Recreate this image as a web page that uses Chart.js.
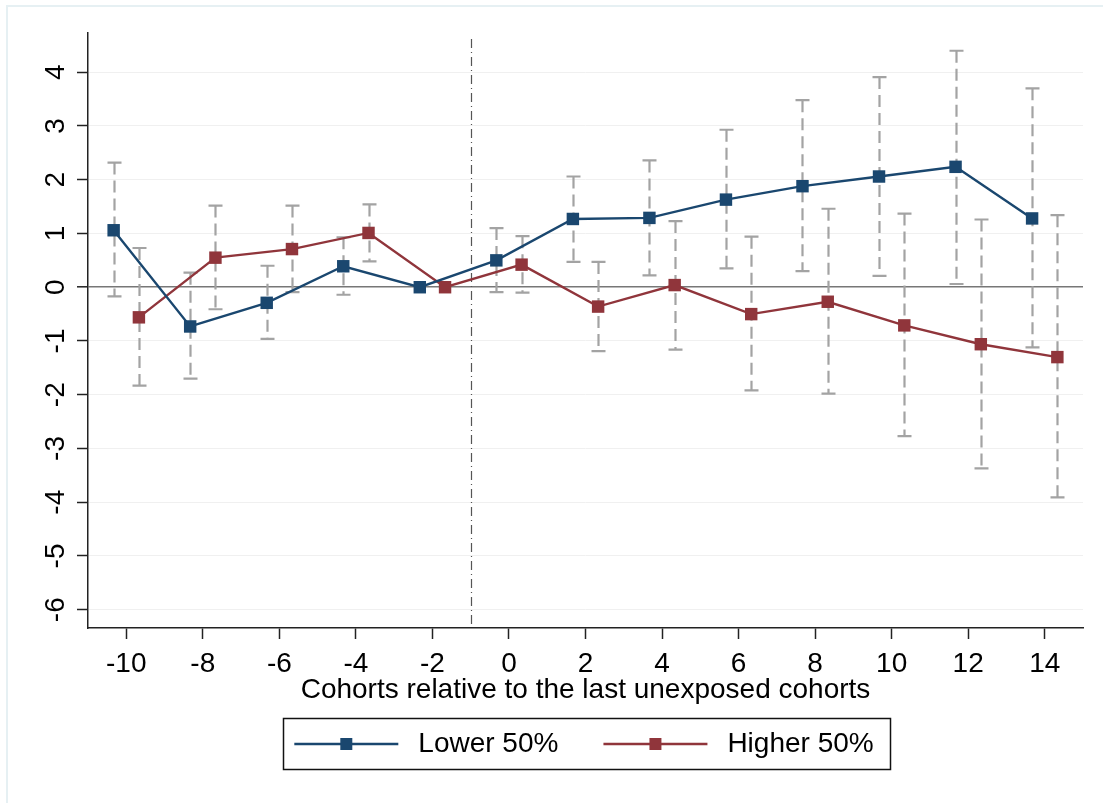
<!DOCTYPE html>
<html>
<head>
<meta charset="utf-8">
<title>Cohort estimates</title>
<script src="https://cdn.jsdelivr.net/npm/chart.js@4.4.0/dist/chart.umd.min.js"></script>
<style>
    html, body { margin: 0; padding: 0; background: #fff; }
    #wrap { width: 1103px; height: 803px; }
</style>
</head>
<body>
<div id="wrap"><canvas id="chart" width="1103" height="803"></canvas></div>
<script>
// values
var cohorts = [-10, -8, -6, -4, -2, 0, 2, 4, 6, 8, 10, 12, 14];
var lowerEst = [1.06, -0.73, -0.29, 0.39, 0, 0.50, 1.27, 1.29, 1.63, 1.88, 2.06, 2.24, 1.28];
var lowerLo = [-0.17, -1.70, -0.96, -0.14, null, -0.09, 0.47, 0.22, 0.35, 0.30, 0.21, 0.06, -1.12];
var lowerHi = [2.32, 0.27, 0.40, 0.93, null, 1.10, 2.06, 2.36, 2.93, 3.48, 3.91, 4.40, 3.70];
var higherEst = [-0.56, 0.55, 0.71, 1.01, 0, 0.42, -0.36, 0.04, -0.50, -0.27, -0.71, -1.06, -1.30];
var higherLo = [-1.83, -0.41, -0.09, 0.48, null, -0.10, -1.19, -1.16, -1.92, -1.98, -2.77, -3.37, -3.91];
var higherHi = [0.73, 1.52, 1.52, 1.54, null, 0.95, 0.47, 1.23, 0.94, 1.46, 1.37, 1.26, 1.34];
var xTicks = [-10, -8, -6, -4, -2, 0, 2, 4, 6, 8, 10, 12, 14];
var yTicks = [-6, -5, -4, -3, -2, -1, 0, 1, 2, 3, 4];

var BLUE = '#1a476f';
var RED = '#90353b';
var FONT = '"Liberation Sans", Arial, sans-serif';

function points(est, shift) {
    return cohorts.map(function (c, i) {
        return {x: c + shift, y: est[i]};
    });
}

// legend sample: line with a square marker in the middle
function legendIcon(color) {
    var c = document.createElement('canvas');
    c.width = 115;
    c.height = 16;
    var g = c.getContext('2d');
    g.strokeStyle = color;
    g.lineWidth = 2.5;
    g.beginPath();
    g.moveTo(5, 8);
    g.lineTo(109, 8);
    g.stroke();
    g.fillStyle = color;
    g.fillRect(51, 2, 12, 12);
    return c;
}

var errorBars = {
    id: 'errorBars',
    afterLayout: function (chart) {
        // centre the legend under the plot region rather than the whole canvas
        chart.legend.left = 80;
    },
    beforeDatasetsDraw: function (chart) {
        var ctx = chart.ctx;
        var xs = chart.scales.x;
        var ys = chart.scales.y;
        var area = chart.chartArea;

        // dash-dot reference line
        var vx = Math.round(xs.getPixelForValue(-1)) + 0.5;
        ctx.save();
        ctx.strokeStyle = '#555';
        ctx.lineWidth = 1.2;
        ctx.setLineDash([9, 4, 1, 4]);
        ctx.beginPath();
        ctx.moveTo(vx, area.top + 6);
        ctx.lineTo(vx, area.bottom);
        ctx.stroke();
        ctx.restore();

        chart.data.datasets.forEach(function (ds) {
            ds.ciLo.forEach(function (lo, i) {
                var hi = ds.ciHi[i];
                if (lo === null) return;
                var px = Math.round(xs.getPixelForValue(ds.data[i].x)) + 0.5;
                var y1 = ys.getPixelForValue(lo);
                var y2 = ys.getPixelForValue(hi);
                ctx.save();
                ctx.strokeStyle = '#a3a3a3';
                ctx.lineWidth = 2.2;
                ctx.setLineDash([12, 6]);
                ctx.beginPath();
                ctx.moveTo(px, y2);
                ctx.lineTo(px, y1);
                ctx.stroke();
                ctx.setLineDash([]);
                ctx.beginPath();
                ctx.moveTo(px - 7, y1);
                ctx.lineTo(px + 7, y1);
                ctx.moveTo(px - 7, y2);
                ctx.lineTo(px + 7, y2);
                ctx.stroke();
                ctx.restore();
            });
        });
    },
    afterDraw: function (chart) {
        var ctx = chart.ctx;
        // light outer frame
        ctx.save();
        ctx.strokeStyle = '#e6f0f3';
        ctx.lineWidth = 2;
        ctx.beginPath();
        ctx.moveTo(7, 803);
        ctx.lineTo(7, 6);
        ctx.lineTo(1103, 6);
        ctx.stroke();
        ctx.restore();

        // legend frame round the items
        var boxes = chart.legend.legendHitBoxes;
        if (!boxes || !boxes.length) return;
        var left = Math.min.apply(null, boxes.map(function (b) { return b.left; }));
        var right = Math.max.apply(null, boxes.map(function (b) { return b.left + b.width; }));
        var mid = boxes[0].top + boxes[0].height / 2;
        ctx.save();
        ctx.strokeStyle = '#111';
        ctx.lineWidth = 1.5;
        ctx.strokeRect(Math.round(left - 6) + 0.5, Math.round(mid - 26) + 0.5,
            Math.round(right - left + 23), 51);
        ctx.restore();
    }
};

new Chart(document.getElementById('chart'), {
    type: 'line',
    data: {
        datasets: [
            {
                label: 'Lower 50%',
                data: points(lowerEst, -0.33),
                ciLo: lowerLo,
                ciHi: lowerHi,
                borderColor: BLUE,
                backgroundColor: BLUE,
                borderWidth: 2.4,
                pointStyle: 'rect',
                pointRadius: 8.8,
                pointBorderWidth: 0,
                tension: 0
            },
            {
                label: 'Higher 50%',
                data: points(higherEst, 0.33),
                ciLo: higherLo,
                ciHi: higherHi,
                borderColor: RED,
                backgroundColor: RED,
                borderWidth: 2.4,
                pointStyle: 'rect',
                pointRadius: 8.8,
                pointBorderWidth: 0,
                tension: 0
            }
        ]
    },
    options: {
        responsive: false,
        animation: false,
        layout: {padding: {top: 33, right: 20, left: 0, bottom: 35}},
        scales: {
            x: {
                type: 'linear',
                min: -11,
                max: 15,
                afterBuildTicks: function (s) {
                    s.ticks = xTicks.map(function (v) { return {value: v}; });
                },
                afterFit: function (s) { s.height = 62; },
                grid: {drawOnChartArea: false, tickLength: 11, tickColor: '#222', tickWidth: 1.5},
                border: {color: '#222', width: 1.5},
                ticks: {
                    color: '#000',
                    padding: 8,
                    maxRotation: 0,
                    font: {family: FONT, size: 28},
                    callback: function (v) { return String(v); }
                },
                title: {
                    display: true,
                    text: 'Cohorts relative to the last unexposed cohorts',
                    color: '#000',
                    font: {family: FONT, size: 28},
                    padding: {top: 0, bottom: -17}
                }
            },
            y: {
                min: -6.34,
                max: 4.73,
                afterBuildTicks: function (s) {
                    s.ticks = yTicks.map(function (v) { return {value: v}; });
                },
                afterFit: function (s) { s.width = 88; },
                grid: {
                    tickLength: 11,
                    tickColor: '#222',
                    tickWidth: 1.5,
                    lineWidth: function (c) { return c.tick && c.tick.value === 0 ? 1.6 : 1; },
                    color: function (c) { return c.tick && c.tick.value === 0 ? '#777' : '#f0f0f0'; }
                },
                border: {color: '#222', width: 1.5},
                ticks: {
                    color: '#000',
                    padding: 8.5,
                    minRotation: 90,
                    maxRotation: 90,
                    crossAlign: 'center',
                    font: {family: FONT, size: 28}
                }
            }
        },
        plugins: {
            tooltip: {enabled: false},
            legend: {
                position: 'bottom',
                labels: {
                    usePointStyle: true,
                    pointStyleWidth: 115,
                    padding: 40,
                    color: '#000',
                    font: {family: FONT, size: 28},
                    generateLabels: function (chart) {
                        return chart.data.datasets.map(function (ds, i) {
                            return {
                                text: ds.label,
                                pointStyle: legendIcon(ds.borderColor),
                                fillStyle: ds.borderColor,
                                strokeStyle: ds.borderColor,
                                fontColor: '#000',
                                lineWidth: 0,
                                hidden: false,
                                datasetIndex: i
                            };
                        });
                    }
                }
            }
        }
    },
    plugins: [errorBars]
});
</script>
</body>
</html>
